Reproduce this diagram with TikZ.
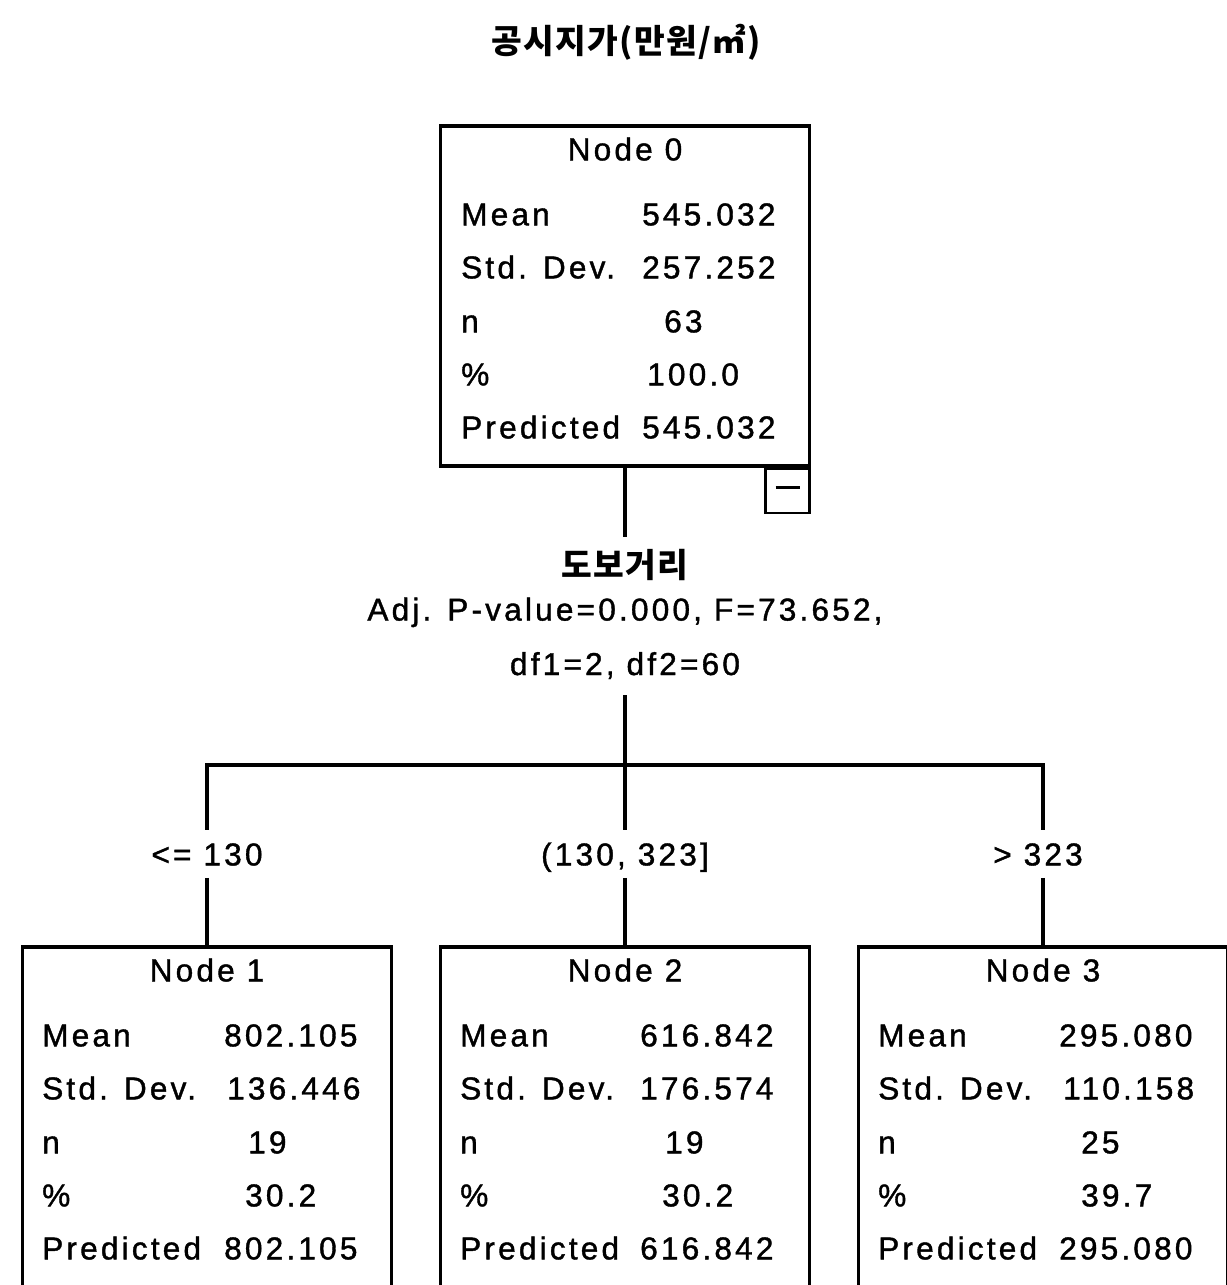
\documentclass[tikz,border=0pt]{standalone}
\usepackage{fontspec}
\setmainfont{Liberation Sans}[LetterSpace=10, FakeBold=1.2]
\newfontfamily\kofont{Noto Sans CJK KR}[LetterSpace=4]
\usepackage{tikz}
\usetikzlibrary{positioning, calc}

\begin{document}
\begin{tikzpicture}[x=0.02cm, y=-0.02cm,
    treenode/.style={rectangle, draw, line width=1.9pt, minimum width=7.38cm, inner sep=0pt},
    minusbox/.style={rectangle, draw, line width=1.6pt, minimum size=0.88cm, inner sep=0pt},
    head/.style={anchor=base, font=\fontsize{18}{20}\selectfont},
    cell/.style={anchor=base west, inner sep=0pt, font=\fontsize{18}{20}\selectfont},
    cond/.style={minimum height=0.94cm, inner sep=0pt, text height=13pt, text depth=0pt, font=\fontsize{18}{20}\selectfont},
    edge/.style={line width=1.9pt}
]
\useasboundingbox (0,0) rectangle (1227,1285);
\clip (0,0) rectangle (1227,1285);

% title
\node[font=\kofont\bfseries\fontsize{19}{22}\selectfont] (title) at (626,42) {공시지가(만원/㎡)};

% root
\node[treenode, minimum height=6.8cm] (n0) at (625,296) {};
\node[minusbox, anchor=north east] (m0) at (n0.south east) {\rule[0.7ex]{0.48cm}{1.8pt}};
\node[head] (n0h) at ($(n0.north)+(0,36)$) {Node 0};
\node[cell] (n0a) at ($(n0.north west)+(22,101)$) {Mean};
\node[cell] (n0b) at ($(n0.north west)+(22,154)$) {Std. Dev.};
\node[cell] (n0c) at ($(n0.north west)+(22,208)$) {n};
\node[cell] (n0d) at ($(n0.north west)+(22,261)$) {\%};
\node[cell] (n0e) at ($(n0.north west)+(22,314)$) {Predicted};
\node[cell] (n0av) at ($(n0.north west)+(203,101)$) {545.032};
\node[cell] (n0bv) at ($(n0.north west)+(203,154)$) {257.252};
\node[cell] (n0cv) at ($(n0.north west)+(225,208)$) {63};
\node[cell] (n0dv) at ($(n0.north west)+(208,261)$) {100.0};
\node[cell] (n0ev) at ($(n0.north west)+(203,314)$) {545.032};

% split
\node[font=\kofont\bfseries\fontsize{19}{22}\selectfont, inner ysep=7pt] (sv) at (625,565) {도보거리};
\node[align=center, anchor=base, inner ysep=9pt, font=\fontsize{18}{31}\selectfont] (st) at (625,675) {Adj. P-value=0.000, F=73.652,\\df1=2, df2=60};
\coordinate (bus) at (625,765);

% children
\node[treenode, minimum height=7.6cm] (n1) at (207,1137) {};
\node[treenode, minimum height=7.6cm] (n2) at (625,1137) {};
\node[treenode, minimum height=7.6cm] (n3) at (1043,1137) {};

\node[cond] (c1) at (207,854) {<= 130};
\node[cond] (c2) at (625,854) {(130, 323]};
\node[cond] (c3) at (1038,854) {> 323};

\node[head] (n1h) at ($(n1.north)+(0,36)$) {Node 1};
\node[cell] (n1a) at ($(n1.north west)+(21,101)$) {Mean};
\node[cell] (n1b) at ($(n1.north west)+(21,154)$) {Std. Dev.};
\node[cell] (n1c) at ($(n1.north west)+(21,208)$) {n};
\node[cell] (n1d) at ($(n1.north west)+(21,261)$) {\%};
\node[cell] (n1e) at ($(n1.north west)+(21,314)$) {Predicted};
\node[cell] (n1av) at ($(n1.north west)+(203,101)$) {802.105};
\node[cell] (n1bv) at ($(n1.north west)+(206,154)$) {136.446};
\node[cell] (n1cv) at ($(n1.north west)+(227,208)$) {19};
\node[cell] (n1dv) at ($(n1.north west)+(224,261)$) {30.2};
\node[cell] (n1ev) at ($(n1.north west)+(203,314)$) {802.105};

\node[head] (n2h) at ($(n2.north)+(0,36)$) {Node 2};
\node[cell] (n2a) at ($(n2.north west)+(21,101)$) {Mean};
\node[cell] (n2b) at ($(n2.north west)+(21,154)$) {Std. Dev.};
\node[cell] (n2c) at ($(n2.north west)+(21,208)$) {n};
\node[cell] (n2d) at ($(n2.north west)+(21,261)$) {\%};
\node[cell] (n2e) at ($(n2.north west)+(21,314)$) {Predicted};
\node[cell] (n2av) at ($(n2.north west)+(201,101)$) {616.842};
\node[cell] (n2bv) at ($(n2.north west)+(201,154)$) {176.574};
\node[cell] (n2cv) at ($(n2.north west)+(226,208)$) {19};
\node[cell] (n2dv) at ($(n2.north west)+(223,261)$) {30.2};
\node[cell] (n2ev) at ($(n2.north west)+(201,314)$) {616.842};

\node[head] (n3h) at ($(n3.north)+(0,36)$) {Node 3};
\node[cell] (n3a) at ($(n3.north west)+(21,101)$) {Mean};
\node[cell] (n3b) at ($(n3.north west)+(21,154)$) {Std. Dev.};
\node[cell] (n3c) at ($(n3.north west)+(21,208)$) {n};
\node[cell] (n3d) at ($(n3.north west)+(21,261)$) {\%};
\node[cell] (n3e) at ($(n3.north west)+(21,314)$) {Predicted};
\node[cell] (n3av) at ($(n3.north west)+(202,101)$) {295.080};
\node[cell] (n3bv) at ($(n3.north west)+(206,154)$) {110.158};
\node[cell] (n3cv) at ($(n3.north west)+(224,208)$) {25};
\node[cell] (n3dv) at ($(n3.north west)+(224,261)$) {39.7};
\node[cell] (n3ev) at ($(n3.north west)+(202,314)$) {295.080};

% connectors
\draw[edge] (n0.south) -- (sv.north);
\draw[edge] (st.south) -- (bus);
\draw[edge] (bus) -| (c1.north);
\draw[edge] (bus) -- (c2.north);
\draw[edge] (bus) -| (c3.north -| n3.north);
\draw[edge] (c1.south) -- (n1.north);
\draw[edge] (c2.south) -- (n2.north);
\draw[edge] (c3.south -| n3.north) -- (n3.north);

\end{tikzpicture}
\end{document}
